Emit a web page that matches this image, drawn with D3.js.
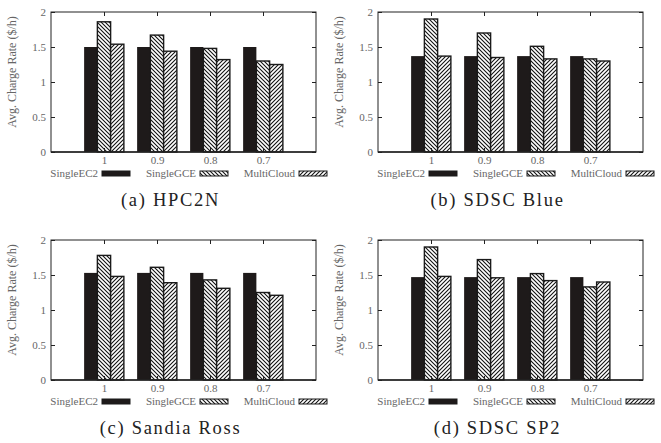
<!DOCTYPE html>
<html>
<head>
<meta charset="utf-8">
<script src="https://cdn.jsdelivr.net/npm/d3@7"></script>
<style>
  body { margin: 0; background: #fff; }
  text { font-family: "Liberation Serif", serif; }
  .tick text { fill: #666; font-size: 11px; }
  .ylabel { fill: #666; font-size: 12px; }
  .legendText { fill: #666; font-size: 11px; }
  .caption { fill: #222; font-size: 18.5px; letter-spacing: 1.7px; }
</style>
</head>
<body>
<svg class="chart" width="661" height="443"></svg>
<script>
// x categories (fraction of jobs / price factor)
var categories = ["1", "0.9", "0.8", "0.7"];
var seriesNames = ["SingleEC2", "SingleGCE", "MultiCloud"];
var yTicks = [0, 0.5, 1, 1.5, 2];
var captions = ["(a) HPC2N", "(b) SDSC Blue", "(c) Sandia Ross", "(d) SDSC SP2"];

// values
var hpc2nEC2 = [1.50, 1.50, 1.50, 1.50];
var hpc2nGCE = [1.86, 1.67, 1.48, 1.30];
var hpc2nMC  = [1.54, 1.44, 1.32, 1.25];

var blueEC2 = [1.37, 1.37, 1.37, 1.37];
var blueGCE = [1.90, 1.70, 1.51, 1.33];
var blueMC  = [1.37, 1.35, 1.33, 1.30];

var rossEC2 = [1.53, 1.53, 1.53, 1.53];
var rossGCE = [1.78, 1.61, 1.43, 1.25];
var rossMC  = [1.48, 1.39, 1.31, 1.21];

var sp2EC2 = [1.47, 1.47, 1.47, 1.47];
var sp2GCE = [1.90, 1.72, 1.52, 1.33];
var sp2MC  = [1.48, 1.46, 1.42, 1.40];

var panels = [
	{ caption: captions[0], ox: 0,   oy: 0,   series: [hpc2nEC2, hpc2nGCE, hpc2nMC] },
	{ caption: captions[1], ox: 327, oy: 0,   series: [blueEC2, blueGCE, blueMC] },
	{ caption: captions[2], ox: 0,   oy: 228, series: [rossEC2, rossGCE, rossMC] },
	{ caption: captions[3], ox: 327, oy: 228, series: [sp2EC2, sp2GCE, sp2MC] }
];

var svg = d3.select(".chart");
var margin = {top: 12, left: 51, right: 11, bottom: 76};
var panelW = 327;
var width = panelW - margin.left - margin.right;   // 265
var height = 152 - margin.top;                      // 140

// hatch patterns
var defs = svg.append("defs");
var back = defs.append("pattern")
	.attr("id", "hatchBack")
	.attr("patternUnits", "userSpaceOnUse")
	.attr("width", 4).attr("height", 4);
back.append("rect").attr("width", 4).attr("height", 4).attr("fill", "#fff");
back.append("path")
	.attr("d", "M-1,-1 L5,5 M-1,3 L1,5 M3,-1 L5,1")
	.attr("stroke", "#111").attr("stroke-width", 1.1);

var fwd = defs.append("pattern")
	.attr("id", "hatchFwd")
	.attr("patternUnits", "userSpaceOnUse")
	.attr("width", 4).attr("height", 4);
fwd.append("rect").attr("width", 4).attr("height", 4).attr("fill", "#fff");
fwd.append("path")
	.attr("d", "M-1,5 L5,-1 M-1,1 L1,-1 M3,5 L5,3")
	.attr("stroke", "#111").attr("stroke-width", 1.1);

var fills = ["#1e1a1a", "url(#hatchBack)", "url(#hatchFwd)"];
var barW = 0.25;

var xScale = d3.scaleLinear().domain([0, categories.length + 1]).range([0, width]);
var yScale = d3.scaleLinear().domain([0, 2]).range([height, 0]);

panels.forEach(function(p) {
	var g = svg.append("g")
		.attr("transform", "translate(" + (p.ox + margin.left) + "," + (p.oy + margin.top) + ")");

	// bars
	p.series.forEach(function(vals, s) {
		g.selectAll(".bar" + s)
			.data(vals)
			.enter().append("rect")
			.attr("class", "bar" + s)
			.attr("x", function(d, i) { return xScale(i + 1 + (s - 1) * barW - barW / 2); })
			.attr("width", xScale(barW) - xScale(0))
			.attr("y", function(d) { return yScale(d); })
			.attr("height", function(d) { return yScale(0) - yScale(d); })
			.attr("fill", fills[s])
			.attr("stroke", s == 0 ? "none" : "#1a1a1a")
			.attr("stroke-width", 1.4);
	});

	// y axis (left, ticks inward) and mirrored right ticks
	g.append("g")
		.attr("class", "axis yAxis")
		.call(d3.axisLeft(yScale).tickValues(yTicks).tickSize(-4).tickPadding(5).tickFormat(d3.format("")))
		.call(function(a) { a.select(".domain").remove(); a.selectAll("line").attr("stroke", "#222"); });

	g.append("g")
		.attr("transform", "translate(" + width + ",0)")
		.call(d3.axisRight(yScale).tickValues(yTicks).tickSize(-4).tickFormat(""))
		.call(function(a) { a.select(".domain").remove(); a.selectAll("line").attr("stroke", "#222"); });

	// x axis with category labels
	var catTicks = categories.map(function(c, i) { return i + 1; });
	g.append("g")
		.attr("class", "axis xAxis")
		.attr("transform", "translate(0," + height + ")")
		.call(d3.axisBottom(xScale).tickValues(catTicks).tickSize(-4).tickPadding(4)
			.tickFormat(function(d) { return categories[d - 1]; }))
		.call(function(a) { a.select(".domain").remove(); a.selectAll("line").attr("stroke", "#222"); });

	g.append("g")
		.call(d3.axisTop(xScale).tickValues(catTicks).tickSize(-4).tickFormat(""))
		.call(function(a) { a.select(".domain").remove(); a.selectAll("line").attr("stroke", "#222"); });

	// frame
	g.append("rect")
		.attr("width", width).attr("height", height)
		.attr("fill", "none").attr("stroke", "#222").attr("stroke-width", 1);
	g.append("line")
		.attr("x1", 0).attr("x2", width)
		.attr("y1", height).attr("y2", height)
		.attr("stroke", "#222").attr("stroke-width", 1.6);

	// y label
	g.append("text")
		.attr("class", "ylabel")
		.attr("transform", "translate(-35," + (height / 2 - 10) + ") rotate(-90)")
		.attr("text-anchor", "middle")
		.text("Avg. Charge Rate ($/h)");

	// legend
	var legendSwatchX = [51, 149, 248];
	seriesNames.forEach(function(name, s) {
		var lx = legendSwatchX[s];
		g.append("text")
			.attr("class", "legendText")
			.attr("x", lx - 4)
			.attr("y", height + 25)
			.attr("text-anchor", "end")
			.text(name);
		g.append("rect")
			.attr("x", lx).attr("y", height + 19)
			.attr("width", 28).attr("height", 5)
			.attr("fill", fills[s])
			.attr("stroke", "#1a1a1a").attr("stroke-width", 1);
	});

	// caption
	g.append("text")
		.attr("class", "caption")
		.attr("x", width / 2 - 13)
		.attr("y", height + 54)
		.attr("text-anchor", "middle")
		.text(p.caption);
});
</script>
</body>
</html>
